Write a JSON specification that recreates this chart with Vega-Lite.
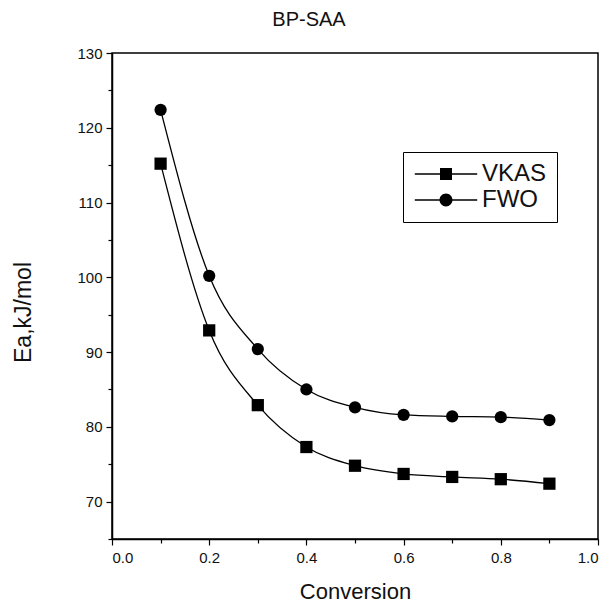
{
  "$schema": "https://vega.github.io/schema/vega-lite/v6.json",
  "autosize": "none",
  "width": 486,
  "height": 486,
  "padding": {"left": 112, "top": 53, "right": 15, "bottom": 65},
  "background": "white",
  "title": {"text": "BP-SAA", "fontSize": 20, "font": "Liberation Sans", "fontWeight": "normal", "color": "#111", "anchor": "middle", "dx": -46, "offset": 16},
  "config": {
    "view": {"stroke": "black", "strokeWidth": 1.5},
    "font": "Liberation Sans",
    "legend": {"strokeColor": "black", "padding": 10},
    "axis": {"grid": false, "domainColor": "black", "tickColor": "black", "labelColor": "#111", "titleColor": "#111", "labelFont": "Liberation Sans", "titleFont": "Liberation Sans", "titleFontWeight": "normal", "domainWidth": 1.5, "tickWidth": 1.2}
  },
  "data": {"values": [
    {"x": 0.1, "y": 115.2, "s": "VKAS"},
    {"x": 0.2, "y": 92.9, "s": "VKAS"},
    {"x": 0.3, "y": 82.9, "s": "VKAS"},
    {"x": 0.4, "y": 77.3, "s": "VKAS"},
    {"x": 0.5, "y": 74.8, "s": "VKAS"},
    {"x": 0.6, "y": 73.7, "s": "VKAS"},
    {"x": 0.7, "y": 73.3, "s": "VKAS"},
    {"x": 0.8, "y": 73.0, "s": "VKAS"},
    {"x": 0.9, "y": 72.4, "s": "VKAS"},
    {"x": 0.1, "y": 122.4, "s": "FWO"},
    {"x": 0.2, "y": 100.2, "s": "FWO"},
    {"x": 0.3, "y": 90.4, "s": "FWO"},
    {"x": 0.4, "y": 85.0, "s": "FWO"},
    {"x": 0.5, "y": 82.6, "s": "FWO"},
    {"x": 0.6, "y": 81.6, "s": "FWO"},
    {"x": 0.7, "y": 81.4, "s": "FWO"},
    {"x": 0.8, "y": 81.3, "s": "FWO"},
    {"x": 0.9, "y": 80.9, "s": "FWO"}
  ]},
  "layer": [
    {
      "mark": {"type": "line", "color": "black", "strokeWidth": 1.3, "interpolate": "monotone"},
      "encoding": {
        "x": {"field": "x", "type": "quantitative", "scale": {"domain": [0, 1], "nice": false, "zero": false},
          "axis": {"orient": "bottom", "values": [0, 0.2, 0.4, 0.6, 0.8, 1.0], "format": ".1f", "tickSize": 6, "labelFontSize": 15, "labelPadding": 5, "title": "Conversion", "titleFontSize": 22, "titlePadding": 16}},
        "y": {"field": "y", "type": "quantitative", "scale": {"domain": [65, 130], "nice": false, "zero": false},
          "axis": {"orient": "left", "values": [70, 80, 90, 100, 110, 120, 130], "tickSize": 6, "labelFontSize": 15, "labelPadding": 4, "title": "Ea,kJ/mol", "titleFontSize": 23, "titlePadding": 41, "titleY": 259}},
        "detail": {"field": "s"}
      }
    },
    {
      "mark": {"type": "point", "filled": true, "color": "black", "opacity": 1, "size": 150},
      "encoding": {
        "x": {"field": "x", "type": "quantitative",
          "axis": {"orient": "bottom", "values": [0.1, 0.3, 0.5, 0.7, 0.9], "labels": false, "tickSize": 4, "domain": false, "title": null}},
        "y": {"field": "y", "type": "quantitative",
          "axis": {"orient": "left", "values": [65, 75, 85, 95, 105, 115, 125], "labels": false, "tickSize": 4, "domain": false, "title": null}},
        "shape": {"field": "s", "type": "nominal", "scale": {"domain": ["VKAS", "FWO"], "range": ["square", "circle"]}, "legend": null}
      }
    },
    {
      "mark": {"type": "point", "filled": true, "color": "black", "opacity": 0},
      "encoding": {
        "x": {"field": "x", "type": "quantitative", "axis": null},
        "y": {"field": "y", "type": "quantitative", "axis": null},
        "shape": {"field": "s", "type": "nominal",
          "scale": {"domain": ["VKAS", "FWO"], "range": ["M-5.2,-0.11H5.2V0.11H-5.2ZM-1,-1H1V1H-1Z", "M-5.2,-0.11H5.2V0.11H-5.2ZM-1.08,0A1.08,1.08 0 1,1 1.08,0A1.08,1.08 0 1,1 -1.08,0Z"]},
          "legend": {"title": null, "orient": "none", "legendX": 291, "legendY": 99, "symbolSize": 144, "symbolOffset": 21, "symbolOpacity": 1, "symbolFillColor": "black", "symbolStrokeColor": "black", "symbolStrokeWidth": 0, "labelFontSize": 24, "labelFont": "Liberation Sans", "labelColor": "#111", "labelOffset": 24, "rowPadding": 2, "fillColor": "white"}
        }
      }
    }
  ],
  "resolve": {"scale": {"shape": "independent"}, "axis": {"x": "independent", "y": "independent"}, "legend": {"shape": "independent"}}
}
